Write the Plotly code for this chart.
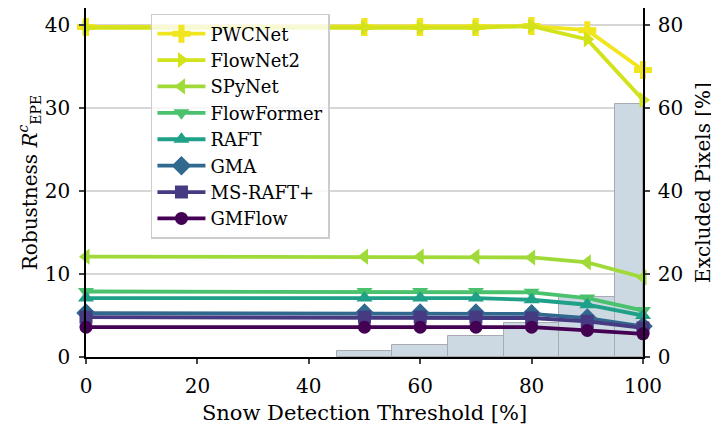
import plotly.graph_objects as go

thresholds = [0, 50, 60, 70, 80, 90, 100]
methods = ["PWCNet", "FlowNet2", "SPyNet", "FlowFormer", "RAFT", "GMA", "MS-RAFT+", "GMFlow"]
robustness = {
    "PWCNet":     [39.8, 39.8, 39.8, 39.8, 39.9, 39.4, 34.6],
    "FlowNet2":   [39.7, 39.7, 39.7, 39.7, 39.9, 38.3, 31.0],
    "SPyNet":     [12.1, 12.1, 12.1, 12.1, 12.0, 11.4, 9.6],
    "FlowFormer": [7.9, 7.9, 7.9, 7.9, 7.8, 7.1, 5.6],
    "RAFT":       [7.1, 7.1, 7.1, 7.1, 6.9, 6.3, 5.0],
    "GMA":        [5.3, 5.3, 5.3, 5.3, 5.2, 4.7, 3.7],
    "MS-RAFT+":   [4.8, 4.8, 4.8, 4.8, 4.7, 4.3, 3.5],
    "GMFlow":     [3.6, 3.6, 3.6, 3.6, 3.6, 3.2, 2.8],
}
colors = ["#f1e51d", "#d2e21b", "#a0da39", "#4ac16d", "#1fa088", "#31688e", "#463a83", "#440154"]
symbols = ["cross", "triangle-right", "triangle-left", "triangle-down", "triangle-up", "diamond", "square", "circle"]
marker_sizes = [15, 14, 14, 14, 14, 15, 13, 13]

bin_centers = [50, 60, 70, 80, 90, 97.5]
bin_widths = [10, 10, 10, 10, 10, 5]
excluded = [1.5, 3.0, 5.0, 8.1, 14.4, 61.0]

FONT = "DejaVu Serif"
TITLE_FONT = dict(family=FONT, size=20, color="black")

fig = go.Figure()
fig.add_trace(go.Bar(
    x=bin_centers, y=excluded, width=bin_widths, yaxis="y",
    marker=dict(color="#ccd9e2", line=dict(color="#a8acb0", width=1)),
    showlegend=False, hoverinfo="skip",
))
for m, c, s, ms in zip(methods, colors, symbols, marker_sizes):
    fig.add_trace(go.Scatter(
        x=thresholds, y=robustness[m], name=m, yaxis="y2", mode="lines+markers",
        line=dict(color=c, width=3.8), marker=dict(symbol=s, size=ms, color=c),
        cliponaxis=False,
    ))

axis_common = dict(showline=True, linecolor="black", linewidth=1.5, ticks="outside", ticklen=5,
                   tickwidth=1.5, zeroline=False, automargin=False,
                   tickfont=dict(family=FONT, size=20, color="black"))

fig.update_layout(
    width=711, height=424,
    margin=dict(l=78, r=75.5, t=0, b=75, autoexpand=False),
    paper_bgcolor="white", plot_bgcolor="white",
    font=dict(family=FONT, size=20, color="black"),
    bargap=0,
    xaxis=dict(range=[0, 100], tickvals=[0, 20, 40, 60, 80, 100], showgrid=False, ticklabelstandoff=5,
               title=dict(text="Snow Detection Threshold [%]", standoff=9,
                          font=dict(family=FONT, size=21, color="black")),
               **axis_common),
    yaxis=dict(range=[0, 84.16], tickvals=[0, 20, 40, 60, 80], side="right", showgrid=True,
               gridcolor="#d6d6d6", gridwidth=1.5, ticklabelstandoff=4,
               title=dict(text="Excluded Pixels [%]", standoff=14, font=TITLE_FONT),
               **axis_common),
    yaxis2=dict(range=[0, 42.08], tickvals=[0, 10, 20, 30, 40], side="left", overlaying="y",
                showgrid=False, ticklabelstandoff=5,
                title=dict(text="Robustness <i>R</i><sup><i>c</i></sup><sub>EPE</sub>", standoff=2,
                           font=TITLE_FONT),
                **axis_common),
    legend=dict(x=0.1166, y=0.983, xanchor="left", yanchor="top", bgcolor="rgba(255,255,255,0.8)",
                bordercolor="#cccccc", borderwidth=1.5, font=dict(size=18, family=FONT),
                itemwidth=48, tracegroupgap=0),
)

fig.write_html("out.html")
